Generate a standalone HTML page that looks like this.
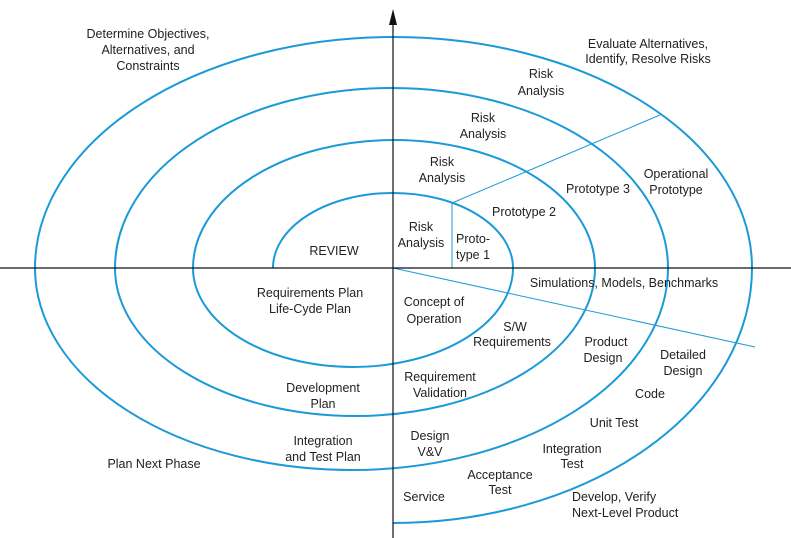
<!DOCTYPE html>
<html><head><meta charset="utf-8"><style>
html,body{margin:0;padding:0;background:#fff;}
svg{display:block;}
text{font-family:"Liberation Sans",sans-serif;font-size:12.5px;fill:#222;text-anchor:middle;}
</style></head><body>
<svg width="791" height="538" viewBox="0 0 791 538" xmlns="http://www.w3.org/2000/svg">
<g fill="none" stroke="#1b9ad8" stroke-width="2">
<path d="M273,268 A120,75 0 0 1 513,268"/>
<path d="M513,268 A160,99 0 0 1 193,268"/>
<path d="M193,268 A201,128 0 0 1 595,268"/>
<path d="M595,268 A240,148 0 0 1 115,268"/>
<path d="M115,268 A276.5,180 0 0 1 668,268"/>
<path d="M668,268 A316.5,202 0 0 1 35,268"/>
<path d="M35,268 A358.5,231 0 0 1 752,268"/>
<path d="M752,268 A359,255 0 0 1 393,523"/>
</g>
<g stroke="#1b9ad8" stroke-width="1" fill="none">
<line x1="393" y1="268" x2="755" y2="347"/>
<line x1="452" y1="203" x2="660" y2="115"/>
<line x1="452" y1="203" x2="452" y2="268"/>
</g>
<g stroke="#111" stroke-width="1.2">
<line x1="0" y1="268" x2="791" y2="268"/>
<line x1="393" y1="18" x2="393" y2="538"/>
</g>
<polygon points="393,9 389,25 397,25" fill="#111"/>
<text x="148" y="38">Determine Objectives,</text>
<text x="148" y="54">Alternatives, and</text>
<text x="148" y="70">Constraints</text>
<text x="648" y="48">Evaluate Alternatives,</text>
<text x="648" y="63">Identify, Resolve Risks</text>
<text x="541" y="78">Risk</text><text x="541" y="95">Analysis</text>
<text x="483" y="122">Risk</text><text x="483" y="138">Analysis</text>
<text x="442" y="166">Risk</text><text x="442" y="182">Analysis</text>
<text x="676" y="178">Operational</text><text x="676" y="194">Prototype</text>
<text x="598" y="193">Prototype 3</text>
<text x="524" y="216">Prototype 2</text>
<text x="421" y="231">Risk</text><text x="421" y="247">Analysis</text>
<text x="456" y="243" style="text-anchor:start">Proto-</text><text x="456" y="259" style="text-anchor:start">type 1</text>
<text x="334" y="255">REVIEW</text>
<text x="624" y="287">Simulations, Models, Benchmarks</text>
<text x="310" y="297">Requirements Plan</text><text x="310" y="313">Life-Cyde Plan</text>
<text x="434" y="306">Concept of</text><text x="434" y="323">Operation</text>
<text x="515" y="331">S/W</text><text x="512" y="346">Requirements</text>
<text x="606" y="346">Product</text><text x="603" y="362">Design</text>
<text x="683" y="359">Detailed</text><text x="683" y="375">Design</text>
<text x="323" y="392">Development</text><text x="323" y="408">Plan</text>
<text x="440" y="381">Requirement</text><text x="440" y="397">Validation</text>
<text x="650" y="398">Code</text>
<text x="614" y="427">Unit Test</text>
<text x="323" y="445">Integration</text><text x="323" y="461">and Test Plan</text>
<text x="430" y="440">Design</text><text x="430" y="456">V&amp;V</text>
<text x="572" y="453">Integration</text><text x="572" y="468">Test</text>
<text x="154" y="468">Plan Next Phase</text>
<text x="500" y="479">Acceptance</text><text x="500" y="494">Test</text>
<text x="424" y="501">Service</text>
<text x="572" y="501" style="text-anchor:start">Develop, Verify</text>
<text x="572" y="517" style="text-anchor:start">Next-Level Product</text>
</svg>
</body></html>
